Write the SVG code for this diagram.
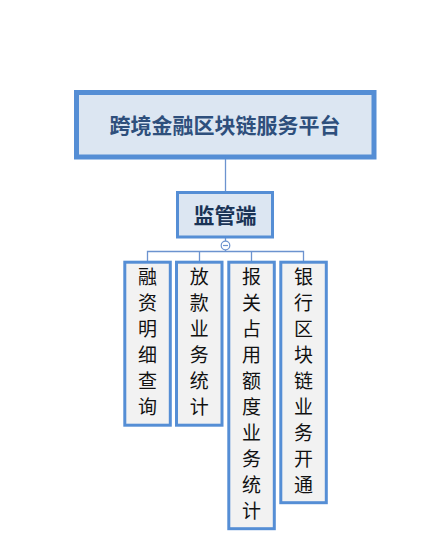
<svg xmlns="http://www.w3.org/2000/svg" width="445" height="554" viewBox="0 0 445 554">
<style>
.box{stroke:#558ed5;}
.root{fill:#dce6f2;stroke-width:5;}
.mid{fill:#dce6f2;stroke-width:3;}
.leaf{fill:#f2f2f2;stroke-width:3;}
.conn{stroke:#6c93cf;stroke-width:1.3;fill:none;}
.t{font-family:"Noto Sans CJK SC","Noto Sans CJK JP",sans-serif;text-anchor:middle;}
.tr{font-size:21px;font-weight:bold;fill:#2e4f7c;}
.tm{font-size:21px;font-weight:bold;fill:#1a3356;}
.tl{font-size:19px;fill:#111;}
</style>
<rect width="445" height="554" fill="#fff"/>
<g id="connectors">
<line class="conn" x1="225.5" y1="159" x2="225.5" y2="191"/>
<line class="conn" x1="225.5" y1="238" x2="225.5" y2="241"/>
<path class="conn" d="M147.5 261 V251.5 H303.5 V261 M199.5 251.5 V261 M251.5 251.5 V261"/>
<line class="conn" x1="225.5" y1="250" x2="225.5" y2="251.5"/>
<circle cx="225.5" cy="245.5" r="4.3" fill="#fff" stroke="#6c93cf" stroke-width="1.2"/>
<line x1="223" y1="245.5" x2="228" y2="245.5" stroke="#6c93cf" stroke-width="1.2"/>
</g>
<g id="root">
<rect class="box root" x="76.5" y="92.5" width="297.5" height="64.5"/>
<text class="t tr" x="225" y="132.5">跨境金融区块链服务平台</text>
</g>
<g id="monitor">
<rect class="box mid" x="177.5" y="192.5" width="95" height="44.5"/>
<text class="t tm" x="225" y="222.5">监管端</text>
</g>
<g id="leaf1">
<rect class="box leaf" x="124.8" y="262.2" width="45.5" height="163"/>
<text class="t tl" x="147.5"><tspan x="147.5" y="284">融</tspan><tspan x="147.5" y="310">资</tspan><tspan x="147.5" y="336">明</tspan><tspan x="147.5" y="362">细</tspan><tspan x="147.5" y="388">查</tspan><tspan x="147.5" y="414">询</tspan></text>
</g>
<g id="leaf2">
<rect class="box leaf" x="176.5" y="262.2" width="45.5" height="163"/>
<text class="t tl" x="199.3"><tspan x="199.3" y="284">放</tspan><tspan x="199.3" y="310">款</tspan><tspan x="199.3" y="336">业</tspan><tspan x="199.3" y="362">务</tspan><tspan x="199.3" y="388">统</tspan><tspan x="199.3" y="414">计</tspan></text>
</g>
<g id="leaf3">
<rect class="box leaf" x="228.8" y="262.2" width="45.5" height="266.5"/>
<text class="t tl" x="251.5"><tspan x="251.5" y="284">报</tspan><tspan x="251.5" y="310">关</tspan><tspan x="251.5" y="336">占</tspan><tspan x="251.5" y="362">用</tspan><tspan x="251.5" y="388">额</tspan><tspan x="251.5" y="414">度</tspan><tspan x="251.5" y="440">业</tspan><tspan x="251.5" y="466">务</tspan><tspan x="251.5" y="492">统</tspan><tspan x="251.5" y="518">计</tspan></text>
</g>
<g id="leaf4">
<rect class="box leaf" x="280.8" y="262.2" width="45.5" height="240.5"/>
<text class="t tl" x="303.5"><tspan x="303.5" y="284">银</tspan><tspan x="303.5" y="310">行</tspan><tspan x="303.5" y="336">区</tspan><tspan x="303.5" y="362">块</tspan><tspan x="303.5" y="388">链</tspan><tspan x="303.5" y="414">业</tspan><tspan x="303.5" y="440">务</tspan><tspan x="303.5" y="466">开</tspan><tspan x="303.5" y="492">通</tspan></text>
</g>
</svg>
